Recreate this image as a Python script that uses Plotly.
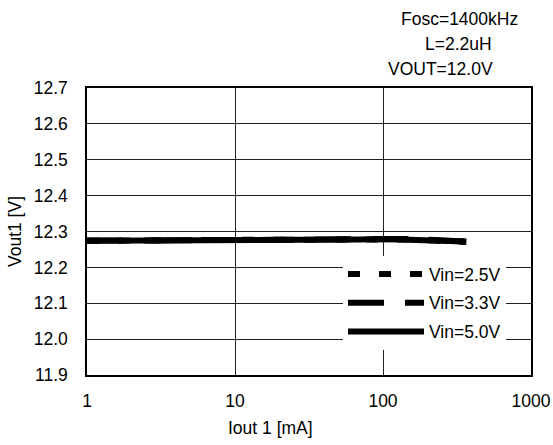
import plotly.graph_objects as go

# Output current sweep [mA] and measured Vout1 [V] per input voltage
iout_ma = [1, 1.5, 2, 3, 5, 7, 10, 15, 20, 30, 50, 70, 100, 150, 200, 250, 300, 365]
vout_vin25 = [12.274, 12.275, 12.274, 12.275, 12.275, 12.276, 12.276, 12.277, 12.277,
              12.278, 12.279, 12.279, 12.279, 12.278, 12.276, 12.275, 12.273, 12.271]
vout_vin33 = [12.275, 12.274, 12.275, 12.275, 12.276, 12.275, 12.276, 12.276, 12.277,
              12.278, 12.278, 12.279, 12.280, 12.279, 12.277, 12.276, 12.274, 12.272]
vout_vin50 = [12.274, 12.274, 12.275, 12.274, 12.275, 12.275, 12.275, 12.276, 12.276,
              12.277, 12.278, 12.278, 12.279, 12.278, 12.277, 12.276, 12.274, 12.272]

series = [
    ("Vin=2.5V", vout_vin25, "12px,19px"),
    ("Vin=3.3V", vout_vin33, "36px,21px"),
    ("Vin=5.0V", vout_vin50, "solid"),
]

x_ticks = [1, 10, 100, 1000]
x_tick_text = ["1", "10", "100", "1000"]
y_ticks = [11.9, 12.0, 12.1, 12.2, 12.3, 12.4, 12.5, 12.6, 12.7]
y_tick_text = ["11.9", "12.0", "12.1", "12.2", "12.3", "12.4", "12.5", "12.6", "12.7"]

# condition notes: text, centre x, centre y (px)
conditions = [("Fosc=1400kHz", 459, 19), ("L=2.2uH", 458, 44), ("VOUT=12.0V", 440, 69)]

FONT = "Liberation Sans, Arial, sans-serif"
FS = 17.5
L, R, T, B = 87, 22, 88, 70
PW, PH = 553 - L - R, 445 - T - B

fig = go.Figure()
for i, (name, vals, dash) in enumerate(series):
    fig.add_trace(go.Scatter(
        x=iout_ma, y=vals, mode="lines", name=name,
        legendgroup=f"g{i}",
        line=dict(color="black", width=6, dash=dash),
    ))

fig.update_layout(
    width=553, height=445,
    margin=dict(l=L, r=R, t=T, b=B, autoexpand=False),
    paper_bgcolor="white", plot_bgcolor="white",
    font=dict(family=FONT, size=FS, color="black"),
    showlegend=True,
    legend=dict(
        x=(343 - L) / PW, y=(445 - B - 256) / PH, xanchor="left", yanchor="top",
        bgcolor="white", borderwidth=0,
        font=dict(size=FS, color="black"),
        itemwidth=76, tracegroupgap=3,
        traceorder="grouped",
    ),
    xaxis=dict(
        type="log", range=[0, 3], automargin=False,
        tickvals=x_ticks, ticktext=x_tick_text,
        showgrid=True, gridcolor="#222", gridwidth=1,
        showline=True, linecolor="black", linewidth=1.5, mirror=True,
        ticks="", ticklabelstandoff=9, zeroline=False,
    ),
    yaxis=dict(
        range=[11.9, 12.7], automargin=False,
        tickvals=y_ticks, ticktext=y_tick_text,
        showgrid=True, gridcolor="#222", gridwidth=1,
        showline=True, linecolor="black", linewidth=1.5, mirror=True,
        ticks="", ticklabelstandoff=14, zeroline=False,
        title=dict(text="Vout1 [V]", font=dict(size=FS), standoff=8),
    ),
)

fig.add_annotation(
    text="Iout 1 [mA]", xref="paper", yref="paper",
    x=(270 - L) / PW, y=(445 - B - 428) / PH, xanchor="center", yanchor="middle",
    showarrow=False, font=dict(size=FS),
)

for text, xpix, ypix in conditions:
    fig.add_annotation(
        text=text, xref="paper", yref="paper",
        x=(xpix - L) / PW, y=(445 - B - ypix) / PH,
        xanchor="center", yanchor="middle",
        showarrow=False, font=dict(size=FS),
    )

fig.write_html("out.html")
